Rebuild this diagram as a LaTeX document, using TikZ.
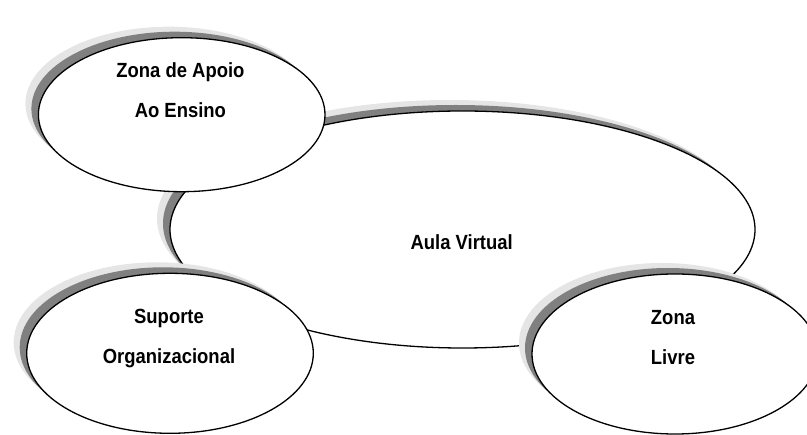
\documentclass[tikz,border=0pt]{standalone}
\usepackage{fontspec}
\newfontfamily\lblfont[FakeStretch=0.9]{Liberation Sans}
\usetikzlibrary{shapes.geometric,shadows}

\tikzset{
  bubble/.style={
    ellipse, inner sep=0pt, draw=black, line width=1.3pt, fill=white,
    general shadow={shadow xshift=-13pt, shadow yshift=11pt, fill=black!10, draw=none},
    general shadow={shadow xshift=-7pt, shadow yshift=6pt, fill=black!50, draw=none}
  },
  lbl/.style={anchor=base, inner sep=0pt, font=\lblfont\bfseries\fontsize{20.5}{24}\selectfont}
}

\begin{document}
\begin{tikzpicture}[x=1pt, y=-1pt]
  \useasboundingbox (0,0) rectangle (807,435);
  \clip (0,0) rectangle (807,435);

  % central area
  \node[bubble, minimum width=585pt, minimum height=237pt] (aula) at (462.5,229.5) {};

  % surrounding zones
  \node[bubble, minimum width=286.6pt, minimum height=154pt] (apoio) at (181.7,114.7) {};
  \node[bubble, minimum width=286.6pt, minimum height=160pt] (suporte) at (170,353.3) {};
  \node[bubble, minimum width=286pt, minimum height=160pt] (livre) at (675,354) {};

  % labels
  \node[lbl] (aulaT) at (461.7,250) {Aula Virtual};
  \node[lbl] (apoioT1) at (180.4,77.7) {Zona de Apoio};
  \node[lbl] (apoioT2) at (180.4,118) {Ao Ensino};
  \node[lbl] (suporteT1) at (169,324) {Suporte};
  \node[lbl] (suporteT2) at (169,364) {Organizacional};
  \node[lbl] (livreT1) at (673,325) {Zona};
  \node[lbl] (livreT2) at (673,365) {Livre};
\end{tikzpicture}
\end{document}
